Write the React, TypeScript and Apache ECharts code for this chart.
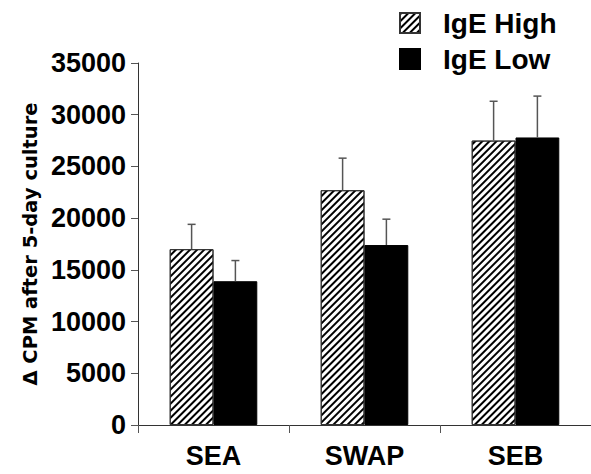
import React, { useEffect, useRef } from 'react';
import * as echarts from 'echarts';

const categories = ['SEA', 'SWAP', 'SEB'];
const seriesNames = ['IgE High', 'IgE Low'];
const highMeans = [17000, 22700, 27500];
const highSem = [2400, 3100, 3800];
const lowMeans = [13900, 17400, 27800];
const lowSem = [2000, 2500, 4000];
const yMax = 35000;
const yInterval = 5000;

const FONT = '"Liberation Sans", Arial, Helvetica, sans-serif';
const BAR_FRAC = 0.29;

function errorSeries(name: string, means: number[], sem: number[], side: number) {
  return {
    type: 'custom',
    name: name + ' err',
    z: 5,
    silent: true,
    data: categories.map((_, i) => [i, means[i], means[i] + sem[i]]),
    encode: { x: 0, y: [1, 2] },
    renderItem: (params: any, api: any) => {
      const idx = api.value(0);
      const mean = api.value(1);
      const top = api.value(2);
      const catW = api.size([1, 0])[0];
      const bw = catW * BAR_FRAC;
      const cx = api.coord([idx, 0])[0] + side * bw / 2;
      const y0 = api.coord([idx, mean])[1];
      const y1 = api.coord([idx, top])[1];
      const st = { stroke: '#555', lineWidth: 1.5 };
      return {
        type: 'group',
        children: [
          { type: 'line', shape: { x1: cx, y1: y0, x2: cx, y2: y1 }, style: st },
          { type: 'line', shape: { x1: cx - 4, y1: y1, x2: cx + 4, y2: y1 }, style: st },
        ],
      };
    },
  };
}

export default function App() {
  const ref = useRef<HTMLDivElement>(null);
  useEffect(() => {
    if (!ref.current) return;
    const chart = echarts.init(ref.current, null, { renderer: 'svg' });
    chart.setOption({
      animation: false,
      backgroundColor: '#fff',
      legend: {
        data: seriesNames,
        orient: 'vertical',
        left: 399,
        top: 8,
        itemWidth: 20,
        itemHeight: 20,
        itemGap: 6,
        padding: 0,
        icon: 'rect',
        textStyle: { fontFamily: FONT, fontWeight: 'bold', fontSize: 28, color: '#000', lineHeight: 30, padding: [0, 0, 0, 18] },
      },
      grid: { left: 138, right: 0, top: 63, bottom: 49, containLabel: false },
      xAxis: {
        type: 'category',
        data: categories,
        axisLine: { lineStyle: { color: '#333', width: 1 } },
        axisTick: { show: true, length: 8, lineStyle: { color: '#555' } },
        axisLabel: { fontFamily: FONT, fontWeight: 'bold', fontSize: 27, color: '#000', margin: 17 },
      },
      yAxis: {
        type: 'value',
        min: 0,
        max: yMax,
        interval: yInterval,
        name: 'Δ CPM after 5-day culture',
        nameLocation: 'middle',
        nameGap: 90,
        nameTextStyle: { fontFamily: '"DejaVu Sans", sans-serif', fontWeight: 'bold', fontSize: 19.5, color: '#000' },
        axisLine: { show: true, lineStyle: { color: '#333', width: 1 } },
        axisTick: { show: true, length: 7, lineStyle: { color: '#555' } },
        axisLabel: {
          fontFamily: FONT,
          fontWeight: 'bold',
          fontSize: 27,
          color: '#000',
          margin: 12,
          formatter: (v: number) => String(v),
        },
        splitLine: { show: false },
      },
      series: [
        {
          type: 'bar',
          name: seriesNames[0],
          data: highMeans,
          barWidth: BAR_FRAC * 100 + '%',
          barGap: '0%',
          itemStyle: {
            color: '#fff',
            borderColor: '#333',
            borderWidth: 1,
            decal: {
              symbol: 'rect',
              symbolSize: 1,
              color: '#000',
              backgroundColor: '#fff',
              dashArrayX: [1, 0],
              dashArrayY: [2, 2.4],
              rotation: -Math.PI / 4,
            },
          },
        },
        {
          type: 'bar',
          name: seriesNames[1],
          data: lowMeans,
          barWidth: BAR_FRAC * 100 + '%',
          barGap: '0%',
          itemStyle: { color: '#000', borderColor: '#000', borderWidth: 1 },
        },
        errorSeries(seriesNames[0], highMeans, highSem, -1),
        errorSeries(seriesNames[1], lowMeans, lowSem, 1),
      ],
    });
    return () => chart.dispose();
  }, []);
  return <div ref={ref} style={{ position: 'absolute', left: 0, top: 0, width: 591, height: 474 }} />;
}
